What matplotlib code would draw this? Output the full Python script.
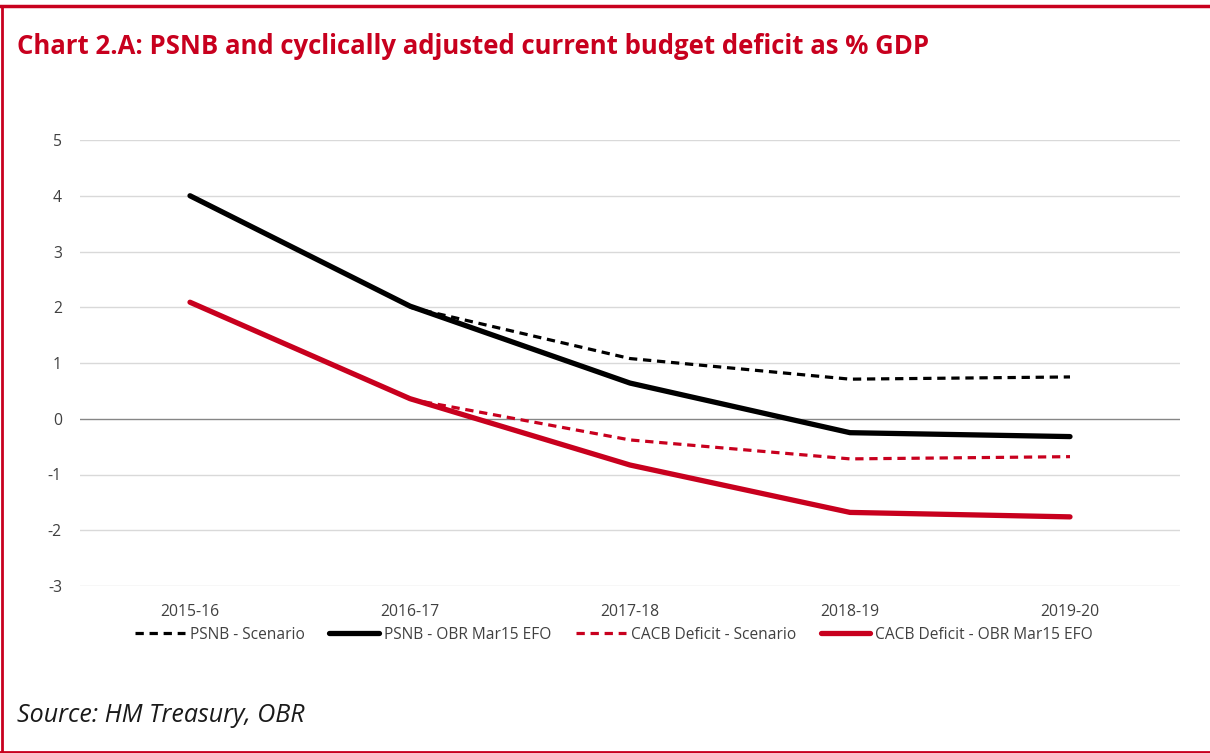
import matplotlib
matplotlib.use("Agg")
import matplotlib.pyplot as plt
from matplotlib.lines import Line2D
import numpy as np

plt.rcParams['font.family'] = ['Open Sans', 'DejaVu Sans']

years = ["2015-16", "2016-17", "2017-18", "2018-19", "2019-20"]
psnb_scenario = [np.nan, 2.0, 1.08, 0.71, 0.75]
psnb_obr = [4.0, 2.02, 0.64, -0.25, -0.32]
cacb_scenario = [np.nan, 0.35, -0.38, -0.72, -0.68]
cacb_obr = [2.09, 0.36, -0.83, -1.68, -1.76]
yticks = [-3, -2, -1, 0, 1, 2, 3, 4, 5]

RED = "#C8001E"
fig = plt.figure(figsize=(12.10, 7.53), dpi=100)
W, H = 1210, 753
ax = fig.add_axes([80 / W, 1 - 586 / H, 1100 / W, 446 / H])

x = np.arange(len(years))
ax.plot(x, psnb_scenario, color="black", lw=2.3, ls=(0, (2.6, 1.8)), label="PSNB - Scenario", zorder=4)
ax.plot(x, psnb_obr, color="black", lw=3.8, solid_capstyle="round", label="PSNB - OBR Mar15 EFO", zorder=3)
ax.plot(x, cacb_scenario, color=RED, lw=2.3, ls=(0, (2.6, 1.8)), label="CACB Deficit - Scenario", zorder=4)
ax.plot(x, cacb_obr, color=RED, lw=3.8, solid_capstyle="round", label="CACB Deficit - OBR Mar15 EFO", zorder=3)

ax.set_xlim(-0.5, len(years) - 0.5)
ax.set_ylim(-3, 5)
ax.set_yticks(yticks)
ax.set_yticklabels([str(v) for v in yticks])
ax.set_xticks(x)
ax.set_xticklabels(years)
for s in ax.spines.values():
    s.set_visible(False)
ax.tick_params(axis="both", length=0, labelsize=11.3, colors="#404040")
ax.tick_params(axis="y", pad=13)
ax.tick_params(axis="x", pad=13)
for v in yticks:
    ax.axhline(v, color="#868686" if v == 0 else "#D9D9D9", lw=1.0, zorder=1)

leg = ax.legend(loc="upper center", bbox_to_anchor=(0.4855, -0.077), ncol=4, frameon=False,
                fontsize=11.2, handlelength=3.2, handletextpad=0.3, columnspacing=1.6,
                borderaxespad=0)
for t in leg.get_texts():
    t.set_color("#404040")

fig.text(17 / W, 1 - 47 / H, "Chart 2.A: PSNB and cyclically adjusted current budget deficit as % GDP",
         color=RED, fontsize=18.5, fontweight="bold", va="center", ha="left")
fig.text(17 / W, 1 - 715 / H, "Source: HM Treasury, OBR", fontsize=18, style="italic",
         va="center", ha="left", color="#1a1a1a")

# border
fig.add_artist(Line2D([0, 1], [1 - 5.5 / H, 1 - 5.5 / H], color=RED, lw=2.5, transform=fig.transFigure))
fig.add_artist(Line2D([2 / W, 2 / W], [0, 1 - 5.5 / H], color=RED, lw=2.0, transform=fig.transFigure))
fig.add_artist(Line2D([0, 1], [1.5 / H, 1.5 / H], color=RED, lw=2.0, transform=fig.transFigure))

fig.savefig("out.png", dpi=100)
